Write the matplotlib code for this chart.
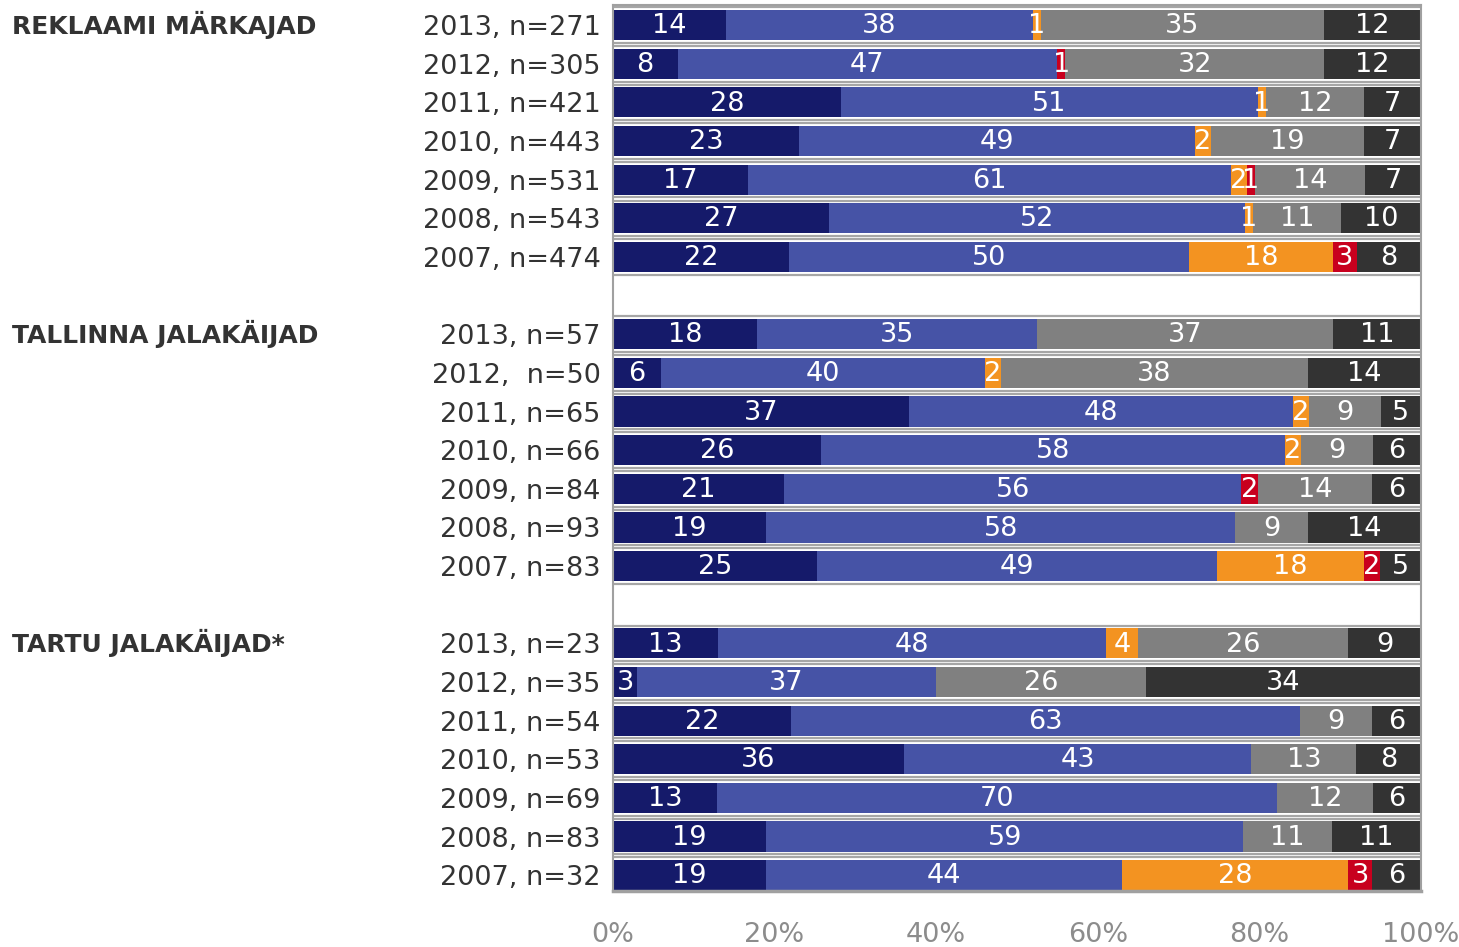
import numpy as np
import matplotlib
matplotlib.use("Agg")
import matplotlib.pyplot as plt
from matplotlib.transforms import blended_transform_factory

# segment order: navy, blue, orange, red, grey, dark
colors = ["#151a6a", "#4653a6", "#f39321", "#c8001e", "#808080", "#333333"]

groups = ["REKLAAMI MÄRKAJAD", "TALLINNA JALAKÄIJAD", "TARTU JALAKÄIJAD*"]

labels_rek = ["2013, n=271", "2012, n=305", "2011, n=421", "2010, n=443",
              "2009, n=531", "2008, n=543", "2007, n=474"]
vals_rek = [
    [14, 38, 1, 0, 35, 12],
    [8, 47, 0, 1, 32, 12],
    [28, 51, 1, 0, 12, 7],
    [23, 49, 2, 0, 19, 7],
    [17, 61, 2, 1, 14, 7],
    [27, 52, 1, 0, 11, 10],
    [22, 50, 18, 3, 0, 8],
]

labels_tln = ["2013, n=57", "2012,  n=50", "2011, n=65", "2010, n=66",
              "2009, n=84", "2008, n=93", "2007, n=83"]
vals_tln = [
    [18, 35, 0, 0, 37, 11],
    [6, 40, 2, 0, 38, 14],
    [37, 48, 2, 0, 9, 5],
    [26, 58, 2, 0, 9, 6],
    [21, 56, 0, 2, 14, 6],
    [19, 58, 0, 0, 9, 14],
    [25, 49, 18, 2, 0, 5],
]

labels_trt = ["2013, n=23", "2012, n=35", "2011, n=54", "2010, n=53",
              "2009, n=69", "2008, n=83", "2007, n=32"]
vals_trt = [
    [13, 48, 4, 0, 26, 9],
    [3, 37, 0, 0, 26, 34],
    [22, 63, 0, 0, 9, 6],
    [36, 43, 0, 0, 13, 8],
    [13, 70, 0, 0, 12, 6],
    [19, 59, 0, 0, 11, 11],
    [19, 44, 28, 3, 0, 6],
]

xticks = [0, 20, 40, 60, 80, 100]

fig = plt.figure(figsize=(14.59, 9.47), dpi=100)
ax = fig.add_axes([0.4201, 0.0591, 0.5538, 0.9356])

h = 0.78
ypos, ylabels = [], []
title_rows = []
row = 0
for g, (labs, vals) in enumerate([(labels_rek, vals_rek), (labels_tln, vals_tln),
                                  (labels_trt, vals_trt)]):
    title_rows.append(row)
    for lab, v in zip(labs, vals):
        v = np.array(v, dtype=float)
        w = v / v.sum() * 100  # labels are rounded, fill full width
        left = 0.0
        for k in range(len(v)):
            if v[k] > 0:
                ax.barh(row, w[k], left=left, height=h, color=colors[k],
                        edgecolor="none", zorder=2)
                ax.text(left + w[k] / 2, row + 0.03, f"{int(v[k])}", ha="center",
                        va="center", color="white", fontsize=19.5, zorder=3)
            left += w[k]
        # bevel lines above / below each bar
        for dy in (-0.46, 0.46):
            ax.plot([0, 100], [row + dy, row + dy], color="#a6a6a6", lw=1.6,
                    solid_capstyle="butt", zorder=1)
        ypos.append(row)
        ylabels.append(lab)
        row += 1
    row += 1  # empty gap row

ax.set_xlim(0, 100)
ax.set_ylim(22.41, -0.52)
ax.set_yticks(ypos)
ax.set_yticklabels(ylabels, fontsize=19.5, color="#333333")
ax.set_xticks(xticks)
ax.set_xticklabels([f"{t}%" for t in xticks], fontsize=19.5, color="#8c8c8c")
ax.tick_params(length=0)
ax.tick_params(axis="y", pad=9)
ax.tick_params(axis="x", pad=22)
for s in ax.spines.values():
    s.set_color("#a0a0a0")
    s.set_linewidth(1.5)
ax.spines["bottom"].set_linewidth(2.5)

tr = blended_transform_factory(fig.transFigure, ax.transData)
for name, r in zip(groups, title_rows):
    ax.text(12 / 1459, r, name, transform=tr, ha="left", va="center",
            fontsize=18, fontweight="bold", color="#333333")

fig.savefig("out.png", dpi=100)
